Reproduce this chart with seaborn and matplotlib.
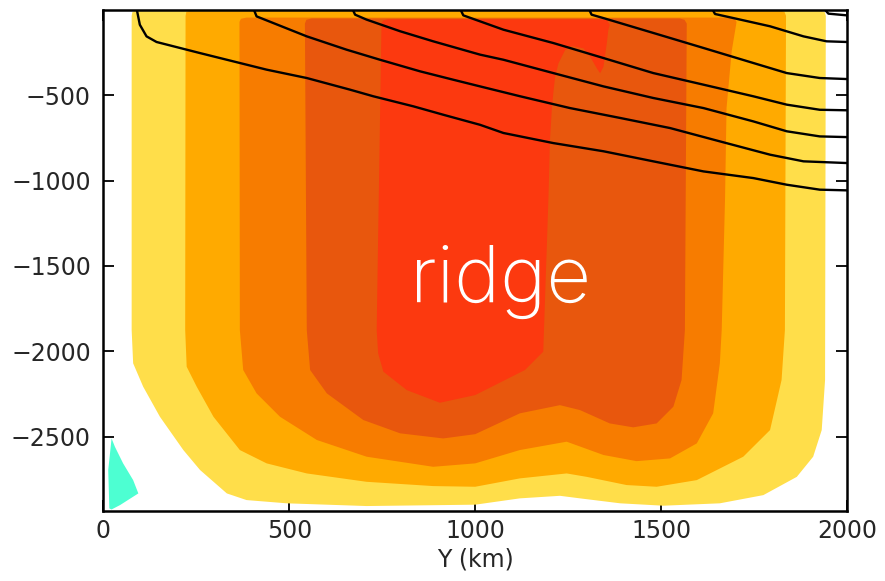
import numpy as np
import pandas as pd
import matplotlib
matplotlib.use("Agg")
import matplotlib.pyplot as plt
import seaborn as sns

# ---- filled contour bands (boundaries; x in km, z in m) ----
yellow_x = [90, 78, 76, 76, 80, 107, 152, 215, 260, 332, 385, 493, 708, 1000, 1120, 1228, 1282,
            1390, 1506, 1658, 1775, 1865, 1909, 1932, 1941, 1943, 1940, 1925]
yellow_z = [-3, -12, -35, -1875, -2070, -2207, -2383, -2578, -2695, -2832, -2871, -2890, -2906,
            -2898, -2861, -2846, -2861, -2890, -2904, -2890, -2842, -2735, -2617, -2461, -2168,
            -35, -12, -3]

orange_x = [235, 223, 221, 220, 224, 251, 296, 367, 439, 547, 708, 887, 1000, 1120, 1246, 1300,
            1407, 1488, 1596, 1721, 1793, 1824, 1833, 1836, 1832, 1820]
orange_z = [-3, -12, -35, -1875, -2090, -2207, -2383, -2578, -2656, -2715, -2764, -2789, -2793,
            -2744, -2715, -2735, -2783, -2793, -2754, -2617, -2461, -2168, -1875, -35, -12, -3]

darkorange_x = [385, 370, 366, 367, 376, 412, 475, 574, 708, 887, 1000, 1120, 1246, 1345, 1434,
                1524, 1596, 1640, 1658, 1663, 1672, 1676, 1690, 1703, 1698, 1685]
darkorange_z = [-45, -52, -70, -1875, -2109, -2246, -2383, -2519, -2617, -2676, -2656, -2578,
                -2529, -2607, -2643, -2627, -2539, -2363, -2070, -1875, -1102, -575, -240, -70,
                -52, -45]

redorange_x = [560, 546, 542, 547, 556, 601, 699, 798, 914, 1000, 1120, 1228, 1282, 1362, 1425,
               1488, 1533, 1555, 1564, 1569, 1563, 1550]
redorange_z = [-50, -58, -80, -1875, -2109, -2246, -2402, -2480, -2510, -2485, -2363, -2315,
               -2344, -2422, -2445, -2422, -2324, -2168, -1875, -80, -58, -50]

red_x = [765, 752, 748, 735, 739, 753, 816, 905, 1000, 1134, 1183, 1185, 1197, 1201, 1206, 1210,
         1215, 1224, 1242, 1260, 1291, 1309, 1327, 1336, 1345, 1354, 1358, 1362, 1354, 1340]
red_z = [-55, -62, -80, -1875, -2012, -2119, -2227, -2301, -2256, -2109, -2002, -1875, -1102,
         -770, -586, -489, -391, -313, -235, -212, -225, -274, -342, -371, -333, -196, -118, -88,
         -59, -55]

cyan_x = [22, 31, 53, 80, 94, 45, 22, 16, 13]
cyan_z = [-2510, -2559, -2656, -2754, -2832, -2900, -2926, -2920, -2695]

band_colors = ["#FFDE4A", "#FFAA00", "#F77C00", "#E8570D", "#FC390F", "#4DFFD2"]

# ---- black lines ----
line1_x = [90, 98, 116, 143, 188, 260, 367, 439, 547, 663, 726, 834, 914, 1013, 1076, 1210, 1345,
           1479, 1614, 1748, 1838, 1927, 2000]
line1_z = [0, -87, -155, -188, -213, -253, -311, -350, -399, -467, -506, -565, -614, -673, -721,
           -780, -828, -887, -946, -985, -1024, -1053, -1057]
line2_x = [405, 412, 457, 547, 654, 744, 852, 941, 1013, 1121, 1255, 1390, 1524, 1658, 1793, 1883, 2000]
line2_z = [0, -38, -77, -155, -233, -292, -360, -409, -448, -506, -575, -633, -692, -770, -848, -887, -897]
line3_x = [671, 677, 708, 798, 887, 1013, 1076, 1210, 1345, 1479, 1614, 1748, 1838, 1927, 2000]
line3_z = [0, -28, -57, -125, -184, -262, -292, -370, -448, -516, -575, -653, -711, -741, -745]
line4_x = [961, 968, 1013, 1076, 1210, 1345, 1479, 1614, 1748, 1838, 1927, 2000]
line4_z = [0, -32, -67, -116, -194, -282, -370, -438, -506, -555, -585, -588]
line5_x = [1307, 1313, 1345, 1479, 1614, 1748, 1838, 1927, 2000]
line5_z = [0, -28, -48, -135, -223, -311, -370, -399, -405]
line6_x = [1639, 1645, 1703, 1793, 1883, 1945, 2000]
line6_z = [0, -24, -52, -96, -155, -184, -188]
line7_x = [1941, 1950, 2000]
line7_z = [0, -22, -32]

x_ticks = [0, 500, 1000, 1500, 2000]
z_ticks = [-2500, -2000, -1500, -1000, -500]

sns.set_theme(style="ticks")
plt.rcParams['font.family'] = ['DejaVu Sans']

fig = plt.figure(figsize=(8.85, 5.81), dpi=100)
ax = fig.add_axes([103.4 / 885, 1 - 511 / 581, (847 - 103.4) / 885, (511 - 9.9) / 581])

bands = [(yellow_x, yellow_z), (orange_x, orange_z), (darkorange_x, darkorange_z),
         (redorange_x, redorange_z), (red_x, red_z), (cyan_x, cyan_z)]
for (bx, bz), col in zip(bands, band_colors):
    ax.fill(bx, bz, color=col, lw=0, zorder=1)

lines = [(line1_x, line1_z), (line2_x, line2_z), (line3_x, line3_z), (line4_x, line4_z),
         (line5_x, line5_z), (line6_x, line6_z), (line7_x, line7_z)]
df = pd.concat([pd.DataFrame({"x": lx, "z": lz, "line": i}) for i, (lx, lz) in enumerate(lines)],
               ignore_index=True)
sns.lineplot(data=df, x="x", y="z", units="line", estimator=None, sort=False,
             color="black", lw=1.7, legend=False, ax=ax, zorder=3)

ax.text(1068, -1712, "ridge", color="white", fontsize=56, ha="center", va="baseline",
        family=["Inter", "DejaVu Sans"], fontweight="light", zorder=4)

ax.set_xlim(0, 2000)
ax.set_ylim(-2935, 0)
ax.set_xticks(x_ticks)
ax.set_yticks(z_ticks)
ax.set_xlabel("Y (km)", fontsize=17, labelpad=3)
ax.set_ylabel("")
ax.tick_params(direction="in", length=8, width=1.3, top=True, right=True,
               labelsize=17, color="black")
ax.tick_params(axis="y", pad=9)
ax.tick_params(axis="x", pad=6)
for s in ax.spines.values():
    s.set_visible(True)
    s.set_linewidth(1.8)
    s.set_color("black")
    s.set_zorder(5)

fig.savefig("out.png", dpi=100)
